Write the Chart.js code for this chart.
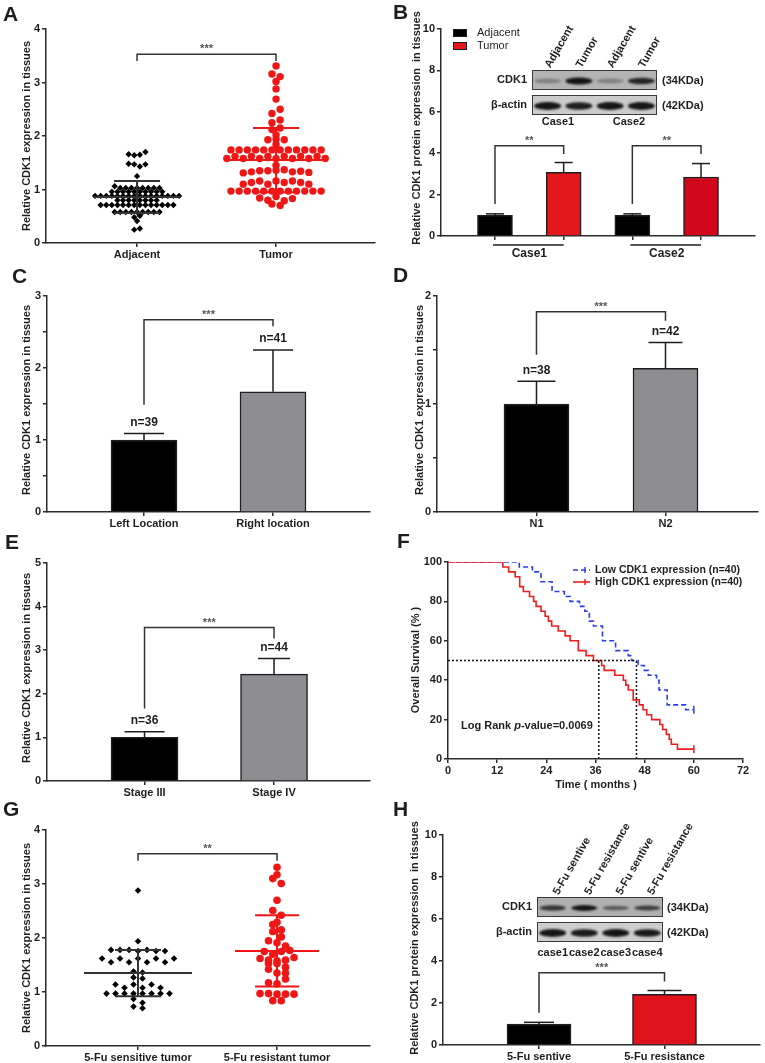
<!DOCTYPE html>
<html>
<head>
<meta charset="utf-8">
<script src="https://cdn.jsdelivr.net/npm/chart.js@4.4.1/dist/chart.umd.min.js"></script>
<style>
  body { margin: 0; background: #fff; width: 765px; height: 1063px; position: relative; overflow: hidden; }
  canvas { position: absolute; }
</style>
</head>
<body>
<script>
// ---------- A : scatter, adjacent vs tumor ----------
const groupsA = ['Adjacent', 'Tumor'];
const adjacentA = [1.66, 1.64, 1.65, 1.70, 1.48, 1.47, 1.43, 1.47, 1.25, 1.06,
  1.03, 1.03, 1.03, 1.03, 1.03, 1.03, 1.03, 1.03,
  0.96, 0.96, 0.96, 0.96, 0.96, 0.96, 0.96, 0.96, 0.96, 0.96,
  0.88, 0.88, 0.88, 0.88, 0.88, 0.88, 0.88, 0.88, 0.88, 0.88, 0.88, 0.88, 0.88, 0.88, 0.88, 0.88,
  0.80, 0.80, 0.80, 0.80, 0.80, 0.80, 0.80, 0.80,
  0.71, 0.71, 0.71, 0.71, 0.71, 0.71, 0.71, 0.71, 0.71, 0.71, 0.71, 0.71, 0.71, 0.71,
  0.58, 0.58, 0.58, 0.58, 0.58, 0.58, 0.58, 0.58, 0.58,
  0.48, 0.51, 0.41, 0.25, 0.27];
const tumorA = [3.31, 3.16, 3.11, 3.02, 2.88, 2.69, 2.42, 2.50, 2.25, 2.30, 2.12, 2.15, 2.02, 1.93, 1.94, 1.93, 1.84,
  1.74, 1.74, 1.74, 1.74, 1.74, 1.74, 1.74, 1.74, 1.74, 1.74, 1.74, 1.74,
  1.58, 1.62, 1.58, 1.62, 1.58, 1.62, 1.58, 1.62, 1.58, 1.62, 1.58, 1.62, 1.58,
  1.45,
  1.31, 1.33, 1.35, 1.35, 1.36, 1.37, 1.33, 1.34, 1.32,
  1.10, 1.13, 1.16, 1.10, 1.16, 1.13, 1.16, 1.13, 1.10,
  0.97, 0.97, 0.97, 0.97, 0.97, 0.97, 0.97, 0.97, 0.97, 0.97, 0.97, 0.97,
  0.84, 0.80, 0.87, 0.79, 0.83, 0.73, 0.70];
const meanA = [0.86, 1.55];
const sdA = [0.30, 0.60];

// ---------- B : western blot quantification ----------
const casesB = ['Case1', 'Case2'];
const seriesB = ['Adjacent', 'Tumor'];
const adjacentB = [1.0, 1.0];
const adjacentErrB = [0.07, 0.07];
const tumorB = [3.07, 2.85];
const tumorErrB = [0.48, 0.65];
const lanesB = ['Adjacent', 'Tumor', 'Adjacent', 'Tumor'];
const cdk1BandsB = [0.3, 0.95, 0.3, 0.85];
const actinBandsB = [0.95, 0.9, 0.95, 0.95];

// ---------- C / D / E : bars ----------
const groupsC = ['Left Location', 'Right location'];
const valuesC = [1.0, 1.67];
const errC = [0.09, 0.58];
const nC = ['n=39', 'n=41'];

const groupsD = ['N1', 'N2'];
const valuesD = [1.0, 1.33];
const errD = [0.21, 0.24];
const nD = ['n=38', 'n=42'];

const groupsE = ['Stage III', 'Stage IV'];
const valuesE = [1.0, 2.45];
const errE = [0.13, 0.36];
const nE = ['n=36', 'n=44'];

// ---------- F : Kaplan-Meier ----------
const seriesF = ['Low CDK1 expression (n=40)', 'High CDK1 expression (n=40)'];
const lowMonths = [0, 17.4, 20.6, 22.7, 25.4, 28.4, 29.8, 32.1, 33.4, 34.5, 35.5, 37.7, 40.9, 44.0, 44.8, 46.4, 47.9, 48.9, 50.9, 51.5, 53.5, 58.0, 60];
const lowSurvival = [100, 97.5, 95, 90, 85, 82.5, 80, 77.5, 75, 70, 67.5, 60, 55, 52.5, 50, 47.5, 45, 42.5, 40, 35, 27.5, 25, 25];
const highMonths = [0, 13.4, 14.8, 16.4, 17.5, 18.4, 19.9, 20.9, 21.5, 22.7, 23.7, 24.5, 25.3, 26.9, 28.6, 29.8, 31.8, 33.7, 35.5, 37.5, 38.1, 40.7, 42.8, 43.4, 44.0, 45.2, 46.7, 47.6, 48.5, 49.7, 51.7, 52.4, 53.3, 54.0, 54.5, 56.0, 60];
const highSurvival = [100, 97.5, 95, 92.5, 87.5, 85, 82.5, 80, 77.5, 75, 72.5, 70, 67.5, 65, 62.5, 60, 55, 52.5, 50, 47.5, 45, 42.5, 40, 37.5, 35, 30, 27.5, 25, 22.5, 20, 17.5, 15, 12.5, 10, 7.5, 5, 5];
const medianMonths = [36.8, 46.0];
const pValueF = '0.0069';

// ---------- G : scatter, 5-Fu ----------
const groupsG = ['5-Fu sensitive tumor', '5-Fu resistant tumor'];
const sensitiveG = [2.88, 1.94,
  1.78, 1.78, 1.78, 1.76, 1.78, 1.76, 1.76,
  1.62, 1.55, 1.62, 1.55, 1.62, 1.55, 1.62, 1.55, 1.62,
  1.38, 1.36, 1.27, 1.25,
  1.14, 1.08, 1.14, 1.08, 1.14, 1.08,
  0.97, 0.97, 0.97, 0.97, 0.97, 0.97, 0.97, 0.97,
  0.87, 0.80, 0.73, 0.70];
const resistantG = [3.31, 3.17, 3.10, 3.01, 2.70, 2.51, 2.42, 2.29, 2.25, 2.15,
  2.12, 2.02, 1.95, 1.91, 1.85, 1.75, 1.70, 1.75, 1.77, 1.62,
  1.59, 1.53, 1.53, 1.58, 1.59, 1.64, 1.42, 1.35, 1.35, 1.46,
  1.17, 1.15, 1.24, 0.97, 0.97, 0.96, 0.96, 0.96, 0.84, 0.84];
const meanG = [1.35, 1.76];
const sdG = [0.43, 0.66];

// ---------- H : 5-Fu blot quantification ----------
const groupsH = ['5-Fu sentive', '5-Fu resistance'];
const valuesH = [1.0, 2.41];
const errH = [0.08, 0.19];
const lanesH = ['5-Fu sentive', '5-Fu resistance', '5-Fu sentive', '5-Fu resistance'];
const casesH = ['case1', 'case2', 'case3', 'case4'];
const cdk1BandsH = [0.75, 0.95, 0.5, 0.7];
const actinBandsH = [0.95, 0.92, 0.95, 0.92];

// ---------- helpers ----------
const FF = '"Liberation Sans", Arial, Helvetica, sans-serif';
const INK = '#1e1e1e';
const AXIS = '#2b2b2b';
const RED = '#f01616';
const GREY = '#8e8e92';

Chart.defaults.font.family = FF;
Chart.defaults.font.size = 11;
Chart.defaults.font.weight = 'bold';
Chart.defaults.color = INK;

function put(ctx, s, x, y, font, opt = {}) {
  ctx.save();
  ctx.font = font;
  ctx.fillStyle = opt.color || INK;
  ctx.textAlign = opt.align || 'center';
  ctx.textBaseline = opt.base || 'middle';
  ctx.translate(x, y);
  if (opt.rot) ctx.rotate(opt.rot);
  ctx.fillText(s, 0, 0);
  ctx.restore();
}

function path(ctx, pts, color, width, dash) {
  ctx.save();
  ctx.strokeStyle = color;
  ctx.lineWidth = width;
  ctx.setLineDash(dash || []);
  ctx.beginPath();
  pts.forEach((p, i) => i ? ctx.lineTo(p[0], p[1]) : ctx.moveTo(p[0], p[1]));
  ctx.stroke();
  ctx.restore();
}

function letter(ctx, P, s, x, y) {
  const [a, b] = P(x, y);
  put(ctx, s, a, b, 'bold 21px ' + FF, { align: 'left' });
}

function yTitle(ctx, P, s, x, y) {
  const [a, b] = P(x, y);
  put(ctx, s, a, b, 'bold 11px ' + FF, { rot: -Math.PI / 2 });
}

function bracket(chart, x1, y1, x2, y2, yTop, label) {
  const xs = chart.scales.x, ys = chart.scales.y;
  const X1 = xs.getPixelForValue(x1), X2 = xs.getPixelForValue(x2), T = ys.getPixelForValue(yTop);
  path(chart.ctx, [[X1, ys.getPixelForValue(y1)], [X1, T], [X2, T], [X2, ys.getPixelForValue(y2)]], '#333', 1.5);
  put(chart.ctx, label, (X1 + X2) / 2, T - 5, 'bold 11px ' + FF, { color: '#555' });
}

function errBars(chart, di, vals, errs, caps) {
  const ys = chart.scales.y;
  chart.getDatasetMeta(di).data.forEach((bar, i) => {
    const top = ys.getPixelForValue(vals[i]), hi = ys.getPixelForValue(vals[i] + errs[i]);
    path(chart.ctx, [[bar.x, top], [bar.x, hi]], INK, 1.5);
    path(chart.ctx, [[bar.x - caps[i], hi], [bar.x + caps[i], hi]], INK, 1.5);
  });
}

function nLabels(chart, vals, errs, labels) {
  const xs = chart.scales.x, ys = chart.scales.y;
  labels.forEach((s, i) => put(chart.ctx, s, xs.getPixelForValue(i + 1),
    ys.getPixelForValue(vals[i] + errs[i]) - 11, 'bold 12px ' + FF));
}

function meanSd(chart, means, sds, colors, halfMean, halfCap) {
  const xs = chart.scales.x, ys = chart.scales.y;
  means.forEach((m, i) => {
    const cx = xs.getPixelForValue(i + 1);
    const my = ys.getPixelForValue(m), hi = ys.getPixelForValue(m + sds[i]), lo = ys.getPixelForValue(m - sds[i]);
    path(chart.ctx, [[cx - halfMean[i], my], [cx + halfMean[i], my]], colors[i], 2);
    path(chart.ctx, [[cx, hi], [cx, lo]], colors[i], 2);
    path(chart.ctx, [[cx - halfCap[i], hi], [cx + halfCap[i], hi]], colors[i], 2);
    path(chart.ctx, [[cx - halfCap[i], lo], [cx + halfCap[i], lo]], colors[i], 2);
  });
}

function blot(ctx, x, y, w, h, bg, bands, bandW, bandH) {
  ctx.save();
  ctx.fillStyle = bg;
  ctx.fillRect(x, y, w, h);
  ctx.strokeStyle = '#3a3a3a';
  ctx.lineWidth = 1;
  ctx.strokeRect(x + 0.5, y + 0.5, w - 1, h - 1);
  ctx.filter = 'blur(1.2px)';
  bands.forEach((a, i) => {
    const cx = x + w * (i + 0.5) / bands.length;
    ctx.fillStyle = `rgba(12,12,12,${a})`;
    ctx.beginPath();
    ctx.ellipse(cx, y + h / 2 + 1, bandW / 2, bandH / 2 * (0.55 + 0.45 * a), 0, 0, Math.PI * 2);
    ctx.fill();
  });
  ctx.restore();
}

// GraphPad-style rows: values closer than binH share a row, spread sideways by `step` px
function swarm(values, center, xUnitPx, step, binH) {
  const order = values.map((v, i) => i).sort((a, b) => values[a] - values[b] || a - b);
  const bins = [];
  order.forEach(i => {
    const last = bins[bins.length - 1];
    if (last && values[i] - values[last[0]] <= binH) last.push(i); else bins.push([i]);
  });
  const pts = new Array(values.length);
  bins.forEach(bin => {
    bin.sort((a, b) => a - b);
    bin.forEach((i, j) => {
      pts[i] = { x: center + (j - (bin.length - 1) / 2) * step / xUnitPx, y: values[i] };
    });
  });
  return pts;
}

function yAxis(min, max, step) {
  return {
    min, max,
    ticks: { stepSize: step, padding: 2, color: INK, font: { size: 11, weight: 'bold' },
      callback: v => (Math.abs(v - Math.round(v)) < 1e-6 ? Math.round(v) : '') },
    grid: { drawOnChartArea: false, tickLength: 4, color: AXIS, lineWidth: 1.5 },
    border: { color: AXIS, width: 1.5 }
  };
}

function xAxis(min, max, labels) {
  return {
    type: 'linear', min, max, offset: false,
    afterBuildTicks: s => { s.ticks = labels.map((_, i) => ({ value: i + 1 })); },
    ticks: { autoSkip: false, maxRotation: 0, padding: 1, color: INK, font: { size: 11, weight: 'bold' },
      callback: v => labels[Math.round(v) - 1] },
    grid: { offset: false, drawOnChartArea: false, tickLength: 4, color: AXIS, lineWidth: 1.5 },
    border: { color: AXIS, width: 1.5 }
  };
}

function make(box, area, yW, xH, type, data, scales, draw) {
  const c = document.createElement('canvas');
  c.width = box[2];
  c.height = box[3];
  c.style.left = box[0] + 'px';
  c.style.top = box[1] + 'px';
  document.body.appendChild(c);
  scales.y.afterFit = s => { s.width = yW; };
  scales.x.afterFit = s => { s.height = xH; };
  return new Chart(c, {
    type, data,
    options: {
      responsive: false, animation: false, devicePixelRatio: 1,
      layout: { padding: { left: area[0] - box[0] - yW, top: area[1] - box[1],
        right: box[0] + box[2] - area[2], bottom: box[1] + box[3] - area[3] - xH } },
      plugins: { legend: { display: false }, tooltip: { enabled: false } },
      scales
    },
    plugins: [{ id: 'decor', afterDraw(chart) { draw(chart, chart.ctx, (x, y) => [x - box[0], y - box[1]]); } }]
  });
}

function barData(values, colors, thickness) {
  return { datasets: [{ data: values.map((v, i) => ({ x: i + 1, y: v })), backgroundColor: colors,
    borderColor: INK, borderWidth: 1.5, barThickness: thickness, grouped: false }] };
}

// ---------- A ----------
make([0, 0, 380, 262], [46, 29, 375, 243], 20, 19, 'scatter', {
  datasets: [
    { data: swarm(adjacentA, 1, 139, 5.6, 0.065), pointStyle: 'rectRot', pointRadius: 3.2,
      backgroundColor: '#000', borderColor: '#000', borderWidth: 0 },
    { data: swarm(tumorA, 2, 139, 8.2, 0.085), pointStyle: 'circle', pointRadius: 3.7,
      backgroundColor: RED, borderColor: RED, borderWidth: 0 }
  ]
}, { x: xAxis(0.345, 2.712, groupsA), y: yAxis(0, 4, 1) }, (chart, ctx, P) => {
  letter(ctx, P, 'A', 3, 15);
  yTitle(ctx, P, 'Relative CDK1 expression in tissues', 27, 136);
  meanSd(chart, meanA, sdA, ['#333', RED], [44, 46], [23, 23]);
  bracket(chart, 1, 3.40, 2, 3.40, 3.53, '***');
});

// ---------- B ----------
make([380, 0, 385, 262], [441, 29, 755, 236], 22, 20, 'bar', {
  datasets: [
    { data: adjacentB.map((v, i) => ({ x: 2 * i + 1, y: v })), backgroundColor: '#000', borderColor: INK,
      borderWidth: 1.5, barThickness: 35, grouped: false },
    { data: tumorB.map((v, i) => ({ x: 2 * i + 2, y: v })), backgroundColor: ['#e3171c', '#d1061c'], borderColor: INK,
      borderWidth: 1.5, barThickness: 35, grouped: false }
  ]
}, { x: xAxis(0.214, 4.786, ['', '', '', '']), y: yAxis(0, 10, 2) }, (chart, ctx, P) => {
  letter(ctx, P, 'B', 393, 13);
  yTitle(ctx, P, 'Relative CDK1 protein expression  in tissues', 417, 128);
  errBars(chart, 0, adjacentB, adjacentErrB, [9, 9]);
  errBars(chart, 1, tumorB, tumorErrB, [9, 9]);
  bracket(chart, 1, 1.55, 2, 3.96, 4.36, '**');
  bracket(chart, 3, 1.55, 4, 3.96, 4.36, '**');
  const xs = chart.scales.x;
  casesB.forEach((s, i) => {
    const a = xs.getPixelForValue(2 * i + 1), b = xs.getPixelForValue(2 * i + 2);
    const [, ly] = P(0, 245);
    path(ctx, [[a - 2, ly], [b, ly]], INK, 1.5);
    put(ctx, s, (a + b) / 2, ly + 9, 'bold 12px ' + FF);
  });
  // legend
  [['#000', seriesB[0], 29], ['#e3171c', seriesB[1], 42]].forEach(([c, s, y]) => {
    const [lx, ly] = P(453, y);
    ctx.fillStyle = c; ctx.fillRect(lx, ly, 14, 8);
    ctx.strokeStyle = INK; ctx.lineWidth = 1; ctx.strokeRect(lx + 0.5, ly + 0.5, 13, 7);
    put(ctx, s, lx + 24, ly + 4, '11px ' + FF, { align: 'left' });
  });
  // blot inset
  let [bx, by] = P(532, 70);
  blot(ctx, bx, by, 125, 20, '#b4b4b4', cdk1BandsB, 27, 7);
  [bx, by] = P(532, 95);
  blot(ctx, bx, by, 125, 20, '#cbcbcb', actinBandsB, 27, 8);
  let q = P(527, 80); put(ctx, 'CDK1', q[0], q[1], 'bold 11px ' + FF, { align: 'right' });
  q = P(527, 105); put(ctx, 'β-actin', q[0], q[1], 'bold 11px ' + FF, { align: 'right' });
  q = P(662, 81); put(ctx, '(34KDa)', q[0], q[1], 'bold 11px ' + FF, { align: 'left' });
  q = P(662, 106); put(ctx, '(42KDa)', q[0], q[1], 'bold 11px ' + FF, { align: 'left' });
  q = P(558, 122); put(ctx, casesB[0], q[0], q[1], 'bold 11px ' + FF);
  q = P(629, 122); put(ctx, casesB[1], q[0], q[1], 'bold 11px ' + FF);
  lanesB.forEach((s, i) => {
    const p = P(532 + 125 * (i + 0.5) / 4, 67);
    put(ctx, s, p[0], p[1], 'bold 11px ' + FF, { align: 'left', rot: -Math.PI / 3 });
  });
});

// ---------- C ----------
make([0, 262, 380, 270], [47, 296, 370, 512], 20, 18, 'bar', barData(valuesC, ['#000', GREY], 66),
  { x: xAxis(0.248, 2.752, groupsC), y: yAxis(0, 3, 0.5) }, (chart, ctx, P) => {
  letter(ctx, P, 'C', 12, 277);
  yTitle(ctx, P, 'Relative CDK1 expression in tissues', 27, 400);
  errBars(chart, 0, valuesC, errC, [20, 20]);
  nLabels(chart, valuesC, errC, nC);
  bracket(chart, 1, 1.49, 2, 2.58, 2.67, '***');
});

// ---------- D ----------
make([380, 262, 385, 270], [437, 296, 758, 512], 20, 18, 'bar', barData(valuesD, ['#000', GREY], 65),
  { x: xAxis(0.229, 2.717, groupsD), y: yAxis(0, 2, 0.5) }, (chart, ctx, P) => {
  letter(ctx, P, 'D', 393, 276);
  yTitle(ctx, P, 'Relative CDK1 expression in tissues', 420, 400);
  errBars(chart, 0, valuesD, errD, [19, 17]);
  nLabels(chart, valuesD, errD, nD);
  bracket(chart, 1, 1.455, 2, 1.77, 1.855, '***');
});

// ---------- E ----------
make([0, 532, 380, 268], [47, 563, 370, 781], 20, 17, 'bar', barData(valuesE, ['#000', GREY], 67),
  { x: xAxis(0.247, 2.741, groupsE), y: yAxis(0, 5, 1) }, (chart, ctx, P) => {
  letter(ctx, P, 'E', 5, 543);
  yTitle(ctx, P, 'Relative CDK1 expression in tissues', 27, 668);
  errBars(chart, 0, valuesE, errE, [20, 16]);
  nLabels(chart, valuesE, errE, nE);
  bracket(chart, 1, 1.66, 2, 3.27, 3.52, '***');
});

// ---------- F ----------
function censorRadius(arr) { return arr.map((_, i) => (i === arr.length - 1 ? 4 : 0)); }
const kmLine = (months, surv, color, dash) => ({
  data: months.map((t, i) => ({ x: t, y: surv[i] })), stepped: true, borderColor: color, borderWidth: 1.6,
  borderDash: dash, fill: false, pointStyle: 'line', pointRotation: 90, pointRadius: censorRadius(months),
  pointBorderColor: color, pointBorderWidth: 1.5
});
const dotted = pts => ({ data: pts, borderColor: '#111', borderWidth: 1.5, borderDash: [2, 2], pointRadius: 0, fill: false });
const yF = yAxis(0, 100, 20);
const xF = {
  type: 'linear', min: 0, max: 72,
  ticks: { stepSize: 12, padding: 1, color: INK, font: { size: 11, weight: 'bold' } },
  grid: { drawOnChartArea: false, tickLength: 4, color: AXIS, lineWidth: 1.5 },
  border: { color: AXIS, width: 1.5 }
};
make([380, 532, 385, 268], [448, 562, 743, 759], 28, 20, 'line', {
  datasets: [
    dotted([{ x: 0, y: 50 }, { x: medianMonths[1], y: 50 }]),
    dotted([{ x: medianMonths[0], y: 0 }, { x: medianMonths[0], y: 50 }]),
    dotted([{ x: medianMonths[1], y: 0 }, { x: medianMonths[1], y: 50 }]),
    kmLine(highMonths, highSurvival, '#f01c1c', []),
    kmLine(lowMonths, lowSurvival, '#2b3cf2', [5, 3])
  ]
}, { x: xF, y: yF }, (chart, ctx, P) => {
  letter(ctx, P, 'F', 397, 542);
  yTitle(ctx, P, 'Overall Survival (% )', 416, 660);
  let q = P(596, 785); put(ctx, 'Time ( months )', q[0], q[1], 'bold 11px ' + FF);
  [['#2b3cf2', [5, 3], seriesF[0], 570], ['#f01c1c', [], seriesF[1], 582]].forEach(([c, d, s, y]) => {
    const [lx, ly] = P(573, y);
    path(ctx, [[lx, ly], [lx + 17, ly]], c, 1.6, d);
    path(ctx, [[lx + 12, ly - 3], [lx + 12, ly + 3]], c, 1.5);
    put(ctx, s, lx + 22, ly, 'bold 10.5px ' + FF, { align: 'left' });
  });
  q = P(461, 726);
  ctx.save();
  ctx.fillStyle = INK; ctx.textBaseline = 'middle'; ctx.textAlign = 'left';
  let x = q[0];
  [['bold 11px ', 'Log Rank '], ['italic bold 11px ', 'p'], ['bold 11px ', '-value=' + pValueF]].forEach(([f, s]) => {
    ctx.font = f + FF; ctx.fillText(s, x, q[1]); x += ctx.measureText(s).width;
  });
  ctx.restore();
});

// ---------- G ----------
make([0, 800, 380, 263], [46, 830, 370, 1046], 20, 17, 'scatter', {
  datasets: [
    { data: swarm(sensitiveG, 1, 139, 9, 0.085), pointStyle: 'rectRot', pointRadius: 3.3,
      backgroundColor: '#000', borderColor: '#000', borderWidth: 0 },
    { data: swarm(resistantG, 2, 139, 8.5, 0.105), pointStyle: 'circle', pointRadius: 3.8,
      backgroundColor: RED, borderColor: RED, borderWidth: 0 }
  ]
}, { x: xAxis(0.338, 2.669, groupsG), y: yAxis(0, 4, 1) }, (chart, ctx, P) => {
  letter(ctx, P, 'G', 3, 810);
  yTitle(ctx, P, 'Relative CDK1 expression in tissues', 27, 938);
  meanSd(chart, meanG, sdG, ['#333', RED], [54, 42], [23, 22]);
  bracket(chart, 1, 3.43, 2, 3.43, 3.56, '**');
});

// ---------- H ----------
make([380, 800, 385, 263], [443, 835, 760, 1045], 22, 18, 'bar', barData(valuesH, ['#000', '#e0131c'], 64),
  { x: xAxis(0.235, 2.761, groupsH), y: yAxis(0, 10, 2) }, (chart, ctx, P) => {
  letter(ctx, P, 'H', 393, 810);
  yTitle(ctx, P, 'Relative CDK1 protein expression  in tissues', 415, 938);
  errBars(chart, 0, valuesH, errH, [15, 17]);
  bracket(chart, 1, 1.54, 2, 3.02, 3.44, '***');
  let [bx, by] = P(537, 897);
  blot(ctx, bx, by, 126, 20, '#b0b0b0', cdk1BandsH, 26, 6);
  [bx, by] = P(537, 922);
  blot(ctx, bx, by, 126, 20, '#cdcdcd', actinBandsH, 27, 8);
  let q = P(532, 907); put(ctx, 'CDK1', q[0], q[1], 'bold 11px ' + FF, { align: 'right' });
  q = P(532, 932); put(ctx, 'β-actin', q[0], q[1], 'bold 11px ' + FF, { align: 'right' });
  q = P(667, 908); put(ctx, '(34KDa)', q[0], q[1], 'bold 11px ' + FF, { align: 'left' });
  q = P(667, 933); put(ctx, '(42KDa)', q[0], q[1], 'bold 11px ' + FF, { align: 'left' });
  casesH.forEach((s, i) => {
    const p = P(537 + 126 * (i + 0.5) / 4, 953);
    put(ctx, s, p[0], p[1], 'bold 11px ' + FF);
  });
  lanesH.forEach((s, i) => {
    const p = P(537 + 126 * (i + 0.5) / 4 + 3, 894);
    put(ctx, s, p[0], p[1], 'bold 11px ' + FF, { align: 'left', rot: -Math.PI / 3 });
  });
});
</script>
</body>
</html>
